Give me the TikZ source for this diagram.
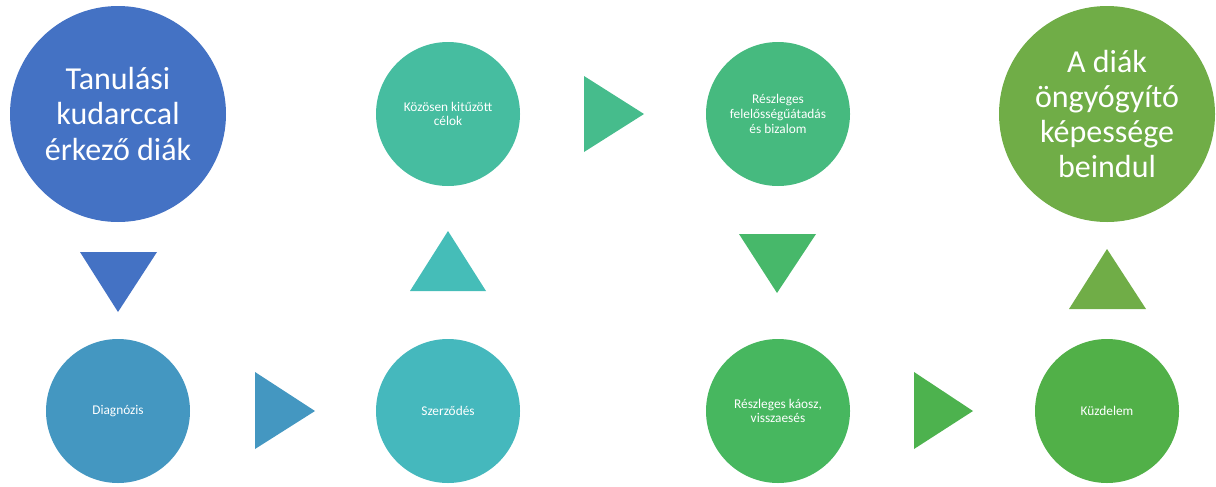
\documentclass[tikz,border=0pt]{standalone}
\usepackage{fontspec}
\setmainfont{Carlito}
\usetikzlibrary{positioning}

\definecolor{startblue}{HTML}{4472C4}
\definecolor{diagblue}{HTML}{4497C1}
\definecolor{contractteal}{HTML}{45B8BD}
\definecolor{arrowteal}{HTML}{45BDB8}
\definecolor{goalgreen}{HTML}{46BDA0}
\definecolor{arrowgoal}{HTML}{46BC8C}
\definecolor{trustgreen}{HTML}{46BA7F}
\definecolor{arrowtrust}{HTML}{47B86A}
\definecolor{chaosgreen}{HTML}{47B75F}
\definecolor{arrowchaos}{HTML}{4DB24E}
\definecolor{fightgreen}{HTML}{51B048}
\definecolor{endgreen}{HTML}{70AD47}

\begin{document}
\begin{tikzpicture}[
    x=0.75pt, y=-0.75pt,
    % Styles
    bigcirc/.style={circle, inner sep=0pt, minimum size=162pt, text=white, align=center, font=\fontsize{24}{26.3}\selectfont},
    smallcirc/.style={circle, inner sep=0pt, minimum size=108pt, text=white, align=center, font=\fontsize{10}{11}\selectfont}
]
\useasboundingbox (0,0) rectangle (1216,486);

% --- Circles ---
\node[bigcirc, fill=startblue] (start) at (118,114) {Tanulási\\kudarccal\\érkező diák};
\node[smallcirc, fill=diagblue] (diag) at (118,411) {Diagnózis};
\node[smallcirc, fill=contractteal] (contract) at (448,411) {Szerződés};
\node[smallcirc, fill=goalgreen] (goals) at (448,114) {Közösen kitűzött\\célok};
\node[smallcirc, fill=trustgreen] (trust) at (778,114) {Részleges\\felelősségűátadás\\és bizalom};
\node[smallcirc, fill=chaosgreen] (chaos) at (778,411) {Részleges káosz,\\visszaesés};
\node[smallcirc, fill=fightgreen] (fight) at (1107,411) {Küzdelem};
\node[bigcirc, fill=endgreen] (heal) at (1107,114) {A diák\\öngyógyító\\képessége\\beindul};

% --- Triangle arrows ---
\fill[startblue] (80,252) -- (157,252) -- (118,312) -- cycle;
\fill[diagblue] (255,372) -- (255,449) -- (315,411) -- cycle;
\fill[arrowteal] (410,291) -- (486,291) -- (448,231) -- cycle;
\fill[arrowgoal] (584,76) -- (584,152) -- (644,114) -- cycle;
\fill[arrowtrust] (739,234) -- (816,234) -- (777,293) -- cycle;
\fill[arrowchaos] (914,372) -- (914,449) -- (973,411) -- cycle;
\fill[endgreen] (1069,309) -- (1146,309) -- (1107,249) -- cycle;

\end{tikzpicture}
\end{document}
